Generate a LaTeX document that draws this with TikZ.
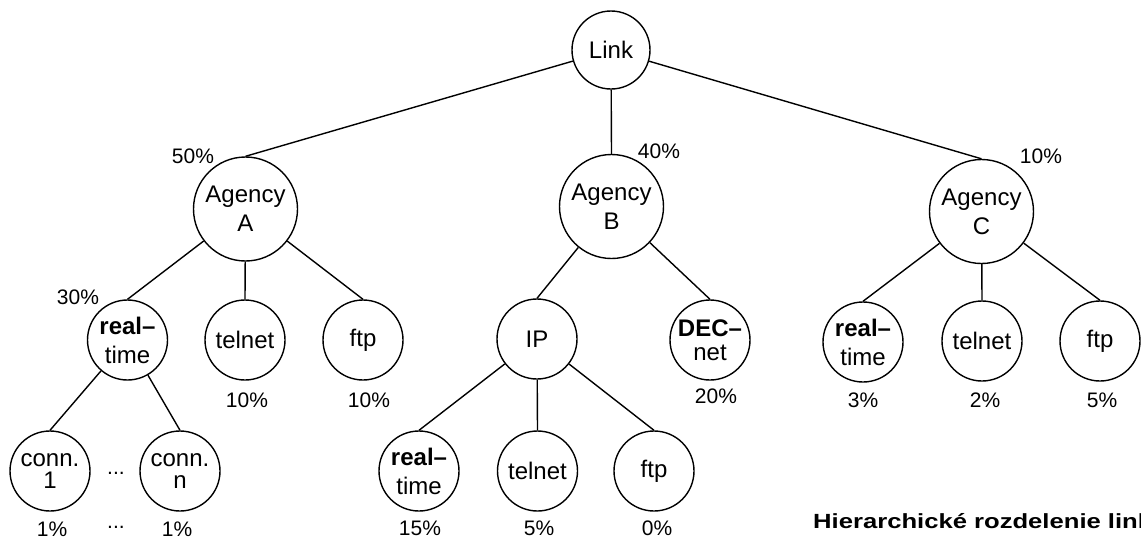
\documentclass[tikz,border=0pt]{standalone}
\usepackage{fontspec}
\setmainfont{Liberation Sans}
\newfontfamily\capfont[FakeStretch=1.25]{Liberation Sans}
\begin{document}
\begin{tikzpicture}[x=1pt,y=-1pt,
  nd/.style={circle, draw, line width=1.4pt, inner sep=0pt, align=center, font=\fontsize{24}{29}\selectfont},
  big/.style={nd, minimum size=104pt},
  small/.style={nd, minimum size=80pt},
  pct/.style={font=\fontsize{21}{21}\selectfont, inner sep=0pt},
  edge/.style={line width=1.4pt}]
\useasboundingbox (0,0) rectangle (1141,539);
% nodes
\node[nd, minimum size=78pt] (link) at (611,50) {Link};
\node[big] (A) at (245.5,209) {Agency\\A};
\node[big] (B) at (611.5,206.5) {Agency\\B};
\node[big] (C) at (981.5,211.5) {Agency\\C};
\node[small] (Art) at (127.5,340) {\textbf{real–}\\time};
\node[small] (Atel) at (245,340) {telnet};
\node[small] (Aftp) at (363,340) {ftp};
\node[small] (IP) at (537,339) {IP};
\node[small, font=\fontsize{24}{24}\selectfont] (DEC) at (710,340) {\textbf{DEC–}\\net};
\node[small] (Crt) at (863,342) {\textbf{real–}\\time};
\node[small] (Ctel) at (982,341) {telnet};
\node[small] (Cftp) at (1100,341) {ftp};
\node[small, font=\fontsize{24}{22}\selectfont] (c1) at (50,471) {conn.\\1};
\node[small, font=\fontsize{24}{22}\selectfont] (cn) at (180,471) {conn.\\n};
\node[small] (IPrt) at (419,471) {\textbf{real–}\\time};
\node[small] (IPtel) at (537.5,471) {telnet};
\node[small] (IPftp) at (654,471) {ftp};
% edges
\draw[edge] (link) -- (A.north);
\draw[edge] (link) -- (B.north);
\draw[edge] (link) -- (C.north);
\draw[edge] (A) -- (Art.north);
\draw[edge] (A) -- (Atel.north);
\draw[edge] (A) -- (Aftp.north);
\draw[edge] (B) -- (IP.north);
\draw[edge] (B) -- (DEC.north);
\draw[edge] (C) -- (Crt.north);
\draw[edge] (C) -- (Ctel.north);
\draw[edge] (C) -- (Cftp.north);
\draw[edge] (Art) -- (c1.north);
\draw[edge] (Art) -- (cn.north);
\draw[edge] (IP) -- (IPrt.north);
\draw[edge] (IP) -- (IPtel.north);
\draw[edge] (IP) -- (IPftp.north);
% percentages
\node[pct] (pA) at (193,156) {50\%};
\node[pct] (pB) at (659,151) {40\%};
\node[pct] (pC) at (1041,156) {10\%};
\node[pct] (pArt) at (78,297) {30\%};
\node[pct] (pAtel) at (247,400) {10\%};
\node[pct] (pAftp) at (369,400) {10\%};
\node[pct] (pDEC) at (716,396) {20\%};
\node[pct] (pCrt) at (863,400) {3\%};
\node[pct] (pCtel) at (985,400) {2\%};
\node[pct] (pCftp) at (1102,400) {5\%};
\node[pct] (pc1) at (52,529) {1\%};
\node[pct] (pdots) at (116,527) {...};
\node[pct] (pcn) at (177,529) {1\%};
\node[pct] (pIPrt) at (420,528) {15\%};
\node[pct] (pIPtel) at (539,528) {5\%};
\node[pct] (pIPftp) at (657,528) {0\%};
\node[pct] (cdots) at (116,473) {...};
% caption
\begin{scope}
\clip (0,0) rectangle (1141,539);
\node[anchor=base west, inner sep=0pt, font=\capfont\bfseries\fontsize{20.5}{21}\selectfont] (cap) at (813,528) {Hierarchické rozdelenie linky};
\end{scope}
\end{tikzpicture}
\end{document}
